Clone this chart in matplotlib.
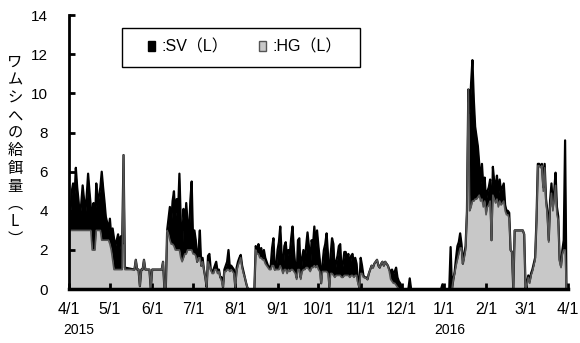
import matplotlib
matplotlib.use('Agg')
import matplotlib.pyplot as plt
import numpy as np
import pandas as pd
from matplotlib.patches import Patch, Rectangle

# ---------------- data ----------------
start_date = '2015-04-01'
# day offsets from 2015-04-01
day_offsets = [
    0, 1, 2, 3, 4, 5, 6, 7, 8, 9, 10, 11, 12, 13, 14, 15, 16, 17, 18, 19,
    20, 21, 22, 23, 24, 25, 26, 27, 28, 29, 30, 31, 32, 33, 34, 35, 36, 37, 38, 39,
    40, 41, 48, 49, 50, 51, 52, 53, 54, 55, 56, 59, 60, 61, 68, 69, 70, 71,
    72, 73, 74, 75, 76, 77, 78, 79, 80, 81, 82, 83, 84, 85, 86, 87, 88, 89,
    90, 91, 92, 93, 94, 95, 96, 97, 98, 99, 100, 101, 102, 103, 104, 105, 106, 107, 108, 109,
    110, 111, 112, 113, 114, 115, 116, 117, 118, 119, 120, 121, 122, 123, 124, 125, 126, 127, 128, 129,
    130, 131, 132, 136,
    137, 138, 139, 140, 141, 142, 143, 144, 145, 146, 147, 148, 149, 150, 151, 152, 153, 154, 155, 156,
    157, 158, 159, 160, 161, 162, 163, 164, 165, 166, 167, 168, 169, 170, 171, 172, 173, 174, 175, 176,
    177, 178, 179, 180, 181, 182, 183, 184, 185, 186, 187, 188, 189, 190, 191, 192, 193, 194, 195, 196,
    197, 198, 199, 200, 201, 202, 203, 204, 205, 206, 207, 208, 209, 210, 211, 212, 213, 214, 215, 216,
    217, 218, 219, 220, 221, 222, 223, 224, 225, 226, 227, 228, 229, 230, 231, 232, 233, 234, 235, 236,
    237, 238, 239, 240, 241, 242, 243, 244, 248, 249, 250, 251, 272, 273, 274, 275, 279, 280, 281,
    282, 283, 284, 285, 286, 287, 288, 289, 290, 291, 292, 293, 294, 295, 296, 297, 298, 299, 300, 301,
    302, 303, 304, 305, 306, 307, 308, 309, 310, 311, 312, 313, 314, 315, 316, 317, 318, 319, 320, 321,
    322, 323, 324, 325, 326, 327, 333, 334, 335, 336, 337, 338, 339, 340, 341, 342, 343, 344, 345, 346,
    347, 348, 349, 350, 351, 352, 353, 354, 355, 356, 357, 358, 359, 360, 361, 362, 363, 364, 365,
]
# HG (gray, bottom layer)
hg_values = [
    3.0, 3.0, 3.0, 3.0, 3.0, 3.0, 3.0, 3.0, 3.0, 3.0, 3.0, 3.0, 3.0, 3.0, 3.0, 3.0, 3.0, 2.0, 2.0, 2.0,
    3.0, 3.0, 3.0, 3.0, 2.5, 2.5, 2.5, 2.5, 2.5, 2.5, 2.3, 2.0, 1.5, 1.0, 1.0, 1.0, 1.0, 1.0, 1.0, 1.0,
    6.85, 1.0, 1.0, 1.5, 1.0, 1.0, 0.15, 1.0, 1.0, 1.5, 1.0, 1.0, 0.0, 1.0, 1.0, 1.4, 0.0, 0.0,
    3.0, 2.8, 2.5, 2.3, 2.3, 2.2, 2.0, 2.0, 2.0, 2.0, 1.6, 1.4, 1.6, 1.8, 1.8, 2.0, 2.0, 2.0,
    2.0, 1.8, 1.8, 1.7, 1.4, 1.6, 1.6, 1.2, 1.4, 1.0, 0.6, 0.1, 1.4, 1.2, 1.0, 0.8, 0.8, 1.0, 1.0, 0.8,
    0.9, 0.6, 0.4, 0.1, 0.9, 0.9, 1.0, 1.0, 0.9, 1.0, 0.9, 0.8, 0.1, 0.9, 1.2, 1.4, 1.6, 1.1, 0.8, 0.6,
    0.3, 0.05, 0.0, 0.0,
    2.0, 1.8, 1.8, 1.6, 1.6, 1.5, 1.5, 1.3, 1.2, 1.1, 1.0, 1.0, 1.2, 1.2, 1.0, 1.0, 1.0, 1.0, 1.2, 1.0,
    0.8, 1.0, 1.0, 0.8, 1.0, 0.9, 1.0, 1.0, 0.9, 0.8, 0.5, 1.0, 1.0, 0.5, 0.9, 1.0, 1.0, 1.1, 1.1, 1.0,
    0.9, 1.1, 1.1, 1.2, 1.1, 1.2, 1.0, 0.9, 0.3, 0.9, 0.9, 0.9, 0.9, 0.8, 0.1, 0.8, 0.8, 0.7, 0.6, 0.7,
    0.7, 0.7, 0.7, 0.6, 0.6, 0.7, 0.7, 0.7, 0.7, 0.6, 0.7, 0.7, 0.6, 0.7, 0.7, 0.3, 0.1, 0.8, 0.8, 0.6,
    0.6, 0.55, 0.5, 0.8, 1.0, 1.2, 1.1, 1.3, 1.4, 1.5, 1.2, 1.1, 1.3, 1.4, 1.2, 1.4, 1.3, 1.2, 0.9, 0.5,
    0.4, 0.3, 0.3, 0.2, 0.1, 0.0, 0.0, 0.0, 0.0, 0.0, 0.0, 0.0, 0.0, 0.0, 0.0, 0.0, 0.0, 0.0, 0.0,
    0.5, 0.8, 1.2, 1.5, 1.8, 2.1, 2.1, 1.3, 1.6, 2.0, 4.0, 10.2, 4.0, 4.2, 4.5, 4.5, 4.6, 4.6, 4.7, 4.8,
    4.5, 4.6, 4.2, 4.5, 3.8, 4.2, 4.3, 4.5, 2.5, 4.8, 4.6, 4.4, 4.6, 4.2, 4.5, 4.3, 4.4, 4.5, 4.0, 3.8,
    3.8, 3.6, 2.0, 1.9, 0.0, 3.0, 3.0, 2.8, 0.0, 0.2, 0.6, 0.3, 0.7, 0.9, 1.2, 1.5, 3.4, 6.3, 6.3, 6.2,
    6.3, 5.0, 6.2, 4.4, 3.8, 2.4, 4.2, 4.9, 4.0, 4.6, 5.3, 3.8, 3.5, 1.4, 1.1, 1.8, 2.0, 2.0, 0.0,
]
# top of the stack (HG + SV)
stack_top_values = [
    4.4, 3.8, 5.0, 5.4, 4.6, 6.2, 5.2, 4.5, 3.7, 4.4, 5.3, 4.6, 3.9, 4.8, 5.9, 5.0, 4.2, 3.7, 4.4, 3.2,
    5.4, 4.3, 4.8, 5.2, 6.0, 5.2, 4.5, 3.7, 3.4, 3.0, 3.6, 2.7, 3.1, 2.6, 2.2, 2.5, 2.8, 2.0, 2.7, 2.3,
    6.85, 1.1, 1.0, 1.5, 1.0, 1.0, 0.15, 1.0, 1.0, 1.5, 1.0, 1.0, 0.0, 1.0, 1.0, 1.4, 0.0, 0.0,
    3.0, 3.6, 4.2, 3.4, 4.5, 5.0, 3.6, 4.6, 3.9, 5.9, 3.5, 1.8, 4.1, 3.0, 4.4, 3.4, 2.6, 4.5,
    5.5, 2.5, 3.0, 2.5, 1.4, 2.0, 3.0, 1.2, 1.6, 1.0, 0.6, 0.1, 1.7, 1.8, 1.0, 0.9, 1.0, 1.2, 1.4, 0.9,
    1.0, 0.6, 0.6, 0.1, 1.0, 1.2, 1.4, 2.0, 1.1, 1.2, 1.1, 1.0, 0.1, 1.1, 1.4, 1.6, 1.75, 1.2, 0.9, 0.6,
    0.3, 0.05, 0.0, 0.0,
    2.2, 2.0, 2.3, 1.8, 2.1, 1.6, 2.0, 1.6, 1.4, 1.2, 1.1, 1.2, 2.1, 2.6, 1.0, 1.1, 2.0, 2.4, 3.2, 1.8,
    1.0, 2.2, 2.4, 1.6, 2.0, 1.8, 2.6, 3.2, 2.0, 1.2, 0.6, 2.5, 2.6, 0.6, 1.6, 2.0, 1.4, 2.2, 2.9, 2.2,
    1.2, 2.5, 2.2, 3.2, 2.2, 3.0, 2.2, 1.5, 0.3, 1.3, 2.0, 2.3, 2.85, 1.8, 0.1, 1.8, 2.6, 2.3, 0.8, 1.4,
    1.7, 2.2, 2.3, 0.9, 1.3, 1.9, 1.9, 1.6, 1.8, 1.1, 1.7, 1.8, 1.3, 1.6, 1.3, 0.4, 0.1, 1.6, 1.2, 0.7,
    0.6, 0.6, 0.5, 0.8, 1.0, 1.2, 1.1, 1.3, 1.4, 1.5, 1.2, 1.1, 1.3, 1.4, 1.2, 1.4, 1.3, 1.2, 1.0, 0.9,
    1.0, 0.8, 0.9, 1.1, 0.6, 0.4, 0.3, 0.0, 0.0, 0.0, 0.55, 0.0, 0.0, 0.0, 0.25, 0.0, 0.0, 2.15, 0.0,
    0.5, 0.9, 1.6, 2.2, 2.4, 2.85, 2.3, 1.3, 1.8, 2.2, 4.0, 10.2, 9.0, 10.5, 11.7, 9.7, 8.3, 7.8, 7.3, 6.4,
    5.4, 6.4, 5.2, 5.7, 4.5, 5.0, 5.2, 5.6, 2.5, 6.25, 5.5, 5.2, 5.8, 4.8, 5.6, 5.0, 5.2, 5.4, 4.3, 4.0,
    4.0, 3.9, 2.0, 1.9, 0.0, 3.0, 3.0, 2.8, 0.0, 0.3, 0.7, 0.4, 0.8, 1.0, 1.3, 1.6, 3.5, 6.4, 6.4, 6.3,
    6.4, 5.2, 6.4, 4.6, 4.0, 2.5, 4.5, 5.4, 4.2, 5.0, 5.95, 4.2, 3.7, 1.5, 1.2, 2.0, 2.5, 7.6, 0.0,
]
month_tick_dates = ['2015-04-01', '2015-05-01', '2015-06-01', '2015-07-01', '2015-08-01',
                    '2015-09-01', '2015-10-01', '2015-11-01', '2015-12-01', '2016-01-01',
                    '2016-02-01', '2016-03-01', '2016-04-01']
month_tick_labels = ['4/1', '5/1', '6/1', '7/1', '8/1', '9/1', '10/1', '11/1', '12/1',
                     '1/1', '2/1', '3/1', '4/1']
year_label_dates = ['2015-04-08', '2016-01-05']
year_labels = ['2015', '2016']
y_ticks = [0, 2, 4, 6, 8, 10, 12, 14]
series_labels = [':SV（L）', ':HG（L）']
y_title = 'ワムシへの給餌量︵L︶'

# ---------------- derived ----------------
dates = pd.Timestamp(start_date) + pd.to_timedelta(day_offsets, unit='D')
hg = np.array(hg_values)
top = np.array(stack_top_values)
sv = top - hg

plt.rcParams['font.family'] = ['Liberation Sans', 'Noto Sans CJK JP', 'DejaVu Sans']

fig = plt.figure(figsize=(5.8, 3.43), dpi=100)
ax = fig.add_axes([0.119, 0.157, 0.860, 0.799])

gray_fill = '#c8c8c8'
gray_line = '#555555'
ax.fill_between(dates, 0, hg, color=gray_fill, linewidth=0, zorder=1)
ax.fill_between(dates, hg, hg + sv, color='black', linewidth=0, zorder=2)
ax.plot(dates, hg + sv, color='black', lw=1.6, zorder=3)
ax.plot(dates, hg, color=gray_line, lw=1.2, zorder=4)

ax.set_xlim(pd.Timestamp(month_tick_dates[0]), pd.Timestamp(month_tick_dates[-1]))
ax.set_ylim(0, 14)
ax.set_yticks(y_ticks)
ax.set_xticks(pd.to_datetime(month_tick_dates))
ax.set_xticklabels(month_tick_labels)

for s in ['top', 'right']:
    ax.spines[s].set_visible(False)
ax.spines['left'].set_linewidth(2.0)
ax.spines['bottom'].set_linewidth(2.5)
ax.spines['left'].set_zorder(6)
ax.spines['bottom'].set_zorder(6)
ax.tick_params(axis='x', direction='in', length=4, width=2, pad=9, labelsize=11.5)
ax.tick_params(axis='y', direction='in', length=4, width=2, pad=15, labelsize=11)

for d, lab in zip(year_label_dates, year_labels):
    ax.text(pd.Timestamp(d), -0.15, lab, transform=ax.get_xaxis_transform(),
            ha='center', va='center', fontsize=10)

fig.text(0.026, 0.56, '\n'.join(list(y_title)), ha='center', va='center',
         fontsize=11, linespacing=1.05, family=['Noto Sans CJK JP', 'DejaVu Sans'])

# legend
handles = [Patch(facecolor='black', edgecolor='black'),
           Patch(facecolor=gray_fill, edgecolor=gray_line)]
ax.add_patch(Rectangle((0.106, 0.81), 0.477, 0.142, transform=ax.transAxes,
                       fill=False, edgecolor='black', lw=1.0, zorder=7))
leg = ax.legend(handles, series_labels, ncol=2, loc='center', bbox_to_anchor=(0.353, 0.883),
                frameon=False, fontsize=11.5, handlelength=0.45, handleheight=0.6,
                handletextpad=0.4, columnspacing=1.9)
leg.set_zorder(8)

fig.savefig('out.png', dpi=100)
